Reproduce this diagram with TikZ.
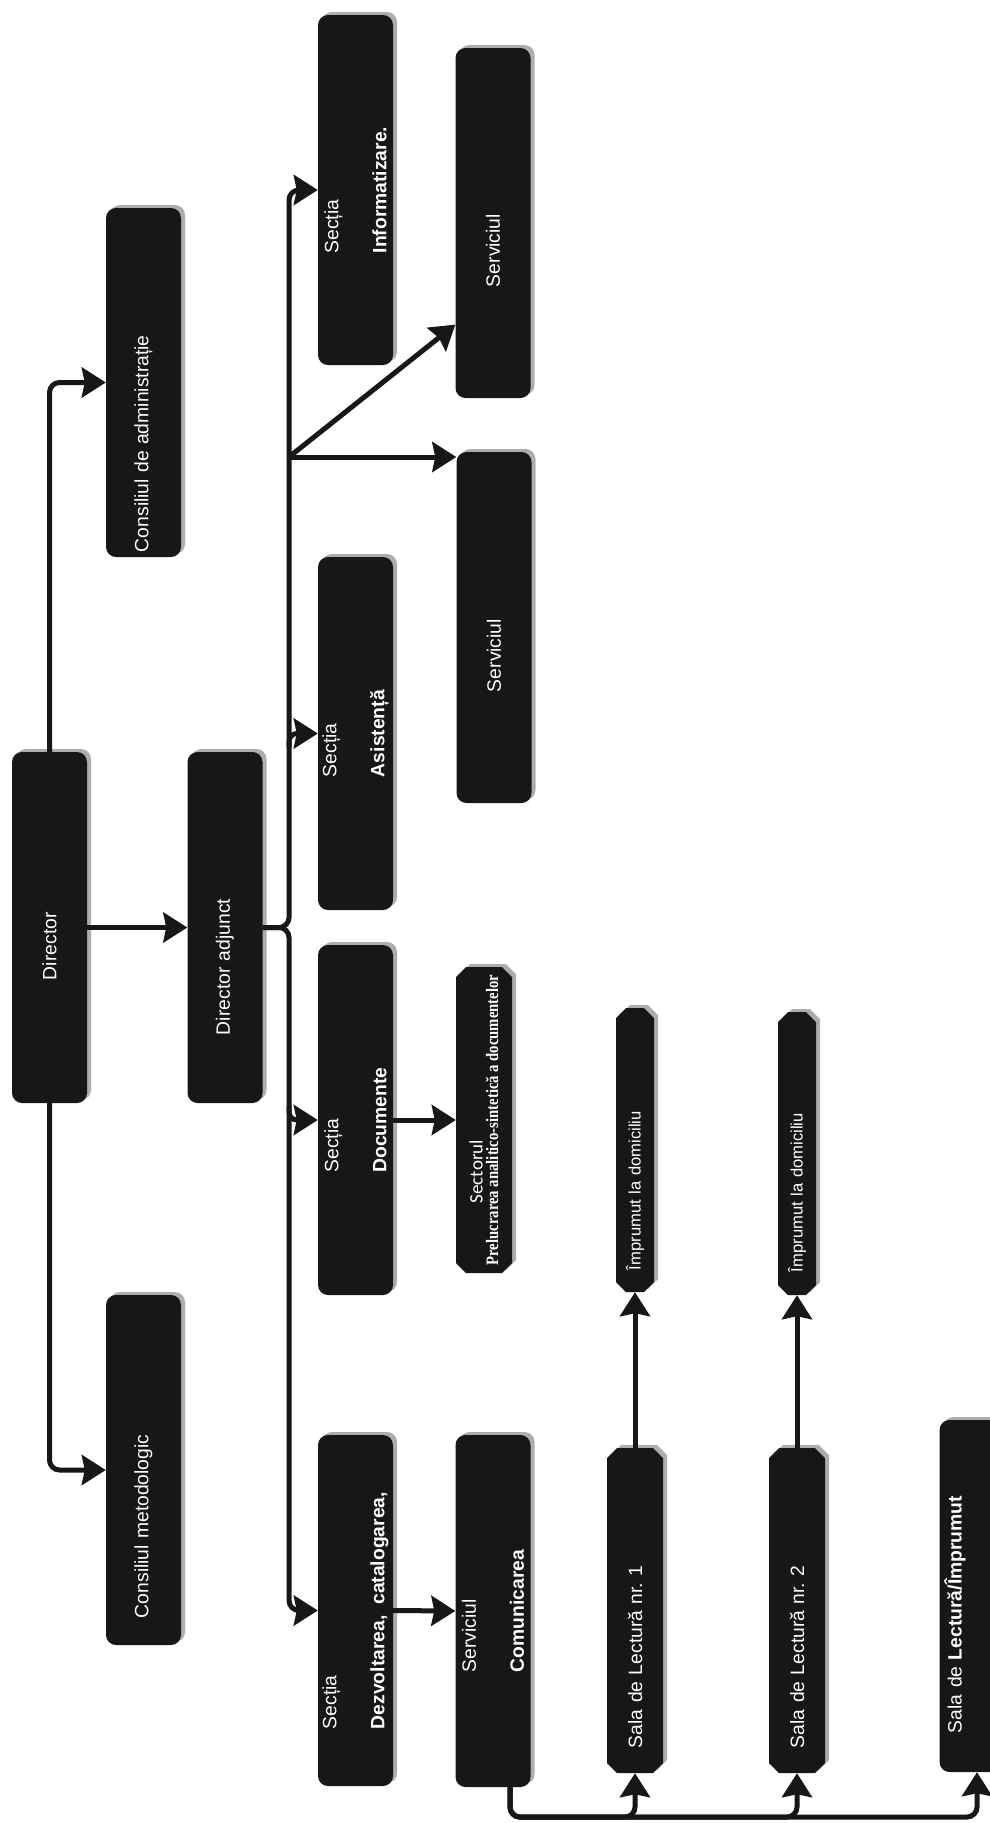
\documentclass[tikz,border=0pt]{standalone}
\usepackage{fontspec}
\setmainfont{Liberation Sans}
\newfontfamily\carlito{Carlito}
\newfontfamily\timesb{Liberation Serif}
\usetikzlibrary{arrows.meta,shapes.misc,shadows,calc}
\definecolor{boxfill}{HTML}{171717}
\definecolor{boxshade}{HTML}{ADADAD}
\frenchspacing

\tikzset{
  box/.style={rectangle, rounded corners=10pt, fill=boxfill, text=white,
    rotate=90, minimum height=75pt, inner xsep=4pt, inner ysep=2pt, align=left,
    font=\fontsize{19.3}{48}\selectfont,
    drop shadow={shadow xshift=4pt, shadow yshift=3pt, fill=boxshade, opacity=1}},
  smallbox/.style={box, chamfered rectangle, sharp corners,
    chamfered rectangle xsep=5pt, chamfered rectangle ysep=5pt, minimum height=56pt},
  link/.style={draw=boxfill, line width=5pt},
  arr/.style={link, -{Stealth[length=24pt, width=30pt, inset=3pt]}},
}

\begin{document}
\begin{tikzpicture}[x=1pt, y=-1pt]
\useasboundingbox (0,0) rectangle (990,1823);

% Director and councils
\node[box, minimum width=351pt, text width=105pt] (dir) at (49.5,927.5) {Director};
\node[box, minimum width=349pt, text width=339pt] (cadm) at (143.5,382.5) {Consiliul de administrație};
\node[box, minimum width=350pt, text width=296pt] (cmet) at (143.5,1470) {Consiliul metodologic};
\node[box, minimum width=351pt, text width=215pt] (dadj) at (225,927.5) {Director adjunct};

% Sections
\node[box, minimum width=350pt] (sinf) at (355.5,190) {Secția\\\textbf{Informatizare.}};
\node[box, minimum width=353pt] (sasi) at (355.5,733.5) {Secția\\\textbf{Asistență}};
\node[box, minimum width=350pt] (sdoc) at (355.5,1120) {Secția\\\textbf{Documente}};
\node[box, minimum width=351pt] (sdez) at (355.5,1610.5) {Secția\\\textbf{Dezvoltarea,\ \ catalogarea,}};

% Services
\node[box, minimum width=350pt, text width=128pt] (serv1) at (493,223) {Serviciul};
\node[box, minimum width=351pt, text width=129pt] (serv2) at (494,627.5) {Serviciul};
\node[box, minimum width=352pt] (scom) at (493,1611) {Serviciul\\\textbf{Comunicarea}};
\node[smallbox, minimum width=306pt, inner xsep=2pt, font=\carlito\fontsize{19}{15.5}\selectfont] (sect) at (484,1120)
  {\hspace*{62pt}Sectorul\\\scalebox{0.84}[1]{\timesb\bfseries\fontsize{17.5}{18}\selectfont Prelucrarea analitico-sintetică a documentelor}};

% Reading rooms
\node[smallbox, minimum width=325pt, text width=275pt] (sala1) at (635,1610.5) {Sala de Lectură nr. 1};
\node[smallbox, minimum width=325pt, text width=275pt] (sala2) at (797,1610.5) {Sala de Lectură nr. 2};
\node[box, minimum width=352pt, text width=274pt] (sala3) at (977,1596) {Sala de \textbf{Lectură/Împrumut}\\\mbox{}};
\node[smallbox, minimum width=284pt, minimum height=38pt, text width=240pt,
  font=\fontsize{16.6}{20}\selectfont] (imp1) at (635,1150) {Împrumut la domiciliu};
\node[smallbox, minimum width=283pt, minimum height=38pt, text width=237pt,
  font=\fontsize{16.6}{20}\selectfont] (imp2) at (797,1153.5) {Împrumut la domiciliu};

% Director links
\draw[arr, rounded corners=10pt] (dir.east) |- (cadm.north);
\draw[arr, rounded corners=10pt] (dir.west) |- (cmet.north);
\draw[arr] (dir.south) -- (dadj.north);

% Deputy director brace
\coordinate (brc) at (289,927.5);
\coordinate (fork) at (289,457);
\draw[arr, rounded corners=10pt] (dadj.south) -- (brc) |- (sinf.north);
\draw[arr, rounded corners=10pt] (dadj.south) -- (brc) |- (sdez.north);
\draw[arr, rounded corners=8pt] ([yshift=-14pt]brc |- sasi.north) |- (sasi.north);
\draw[arr, rounded corners=8pt] ([yshift=14pt]brc |- sdoc.north) |- (sdoc.north);
\draw[arr] (fork) -- (fork -| serv2.north east);
\draw[arr] (fork) -- ($(serv1.north east)!0.79!(serv1.north west)$);

% Section to sector/service
\draw[arr] (sdoc.south) -- (sect.north);
\draw[arr] (sdez.south) -- (scom.north);

% Communication to reading rooms
\coordinate (bus) at (510,1817);
\draw[arr, rounded corners=10pt] (scom.west -| bus) |- (sala1.west |- bus) -- (sala1.west);
\draw[arr, rounded corners=10pt] (scom.west -| bus) |- (sala2.west |- bus) -- (sala2.west);
\draw[arr, rounded corners=10pt] (scom.west -| bus) |- (sala3.west |- bus) -- (sala3.west);
\draw[arr] (sala1.east) -- (imp1.west);
\draw[arr] (sala2.east) -- (imp2.west);
\end{tikzpicture}
\end{document}
